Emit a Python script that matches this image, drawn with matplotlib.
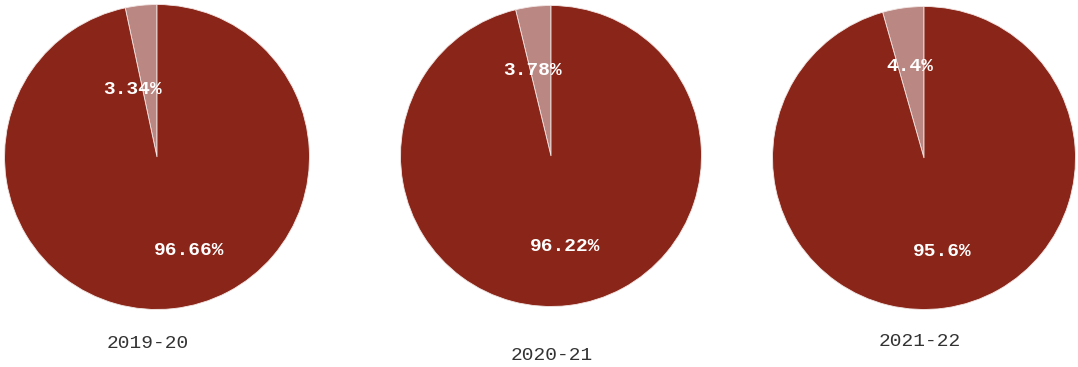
import matplotlib.pyplot as plt
import numpy as np

years = ["2019-20", "2020-21", "2021-22"]
small_share = [3.34, 3.78, 4.4]
large_share = [96.66, 96.22, 95.6]
small_text = ["3.34%", "3.78%", "4.4%"]
large_text = ["96.66%", "96.22%", "95.6%"]

dark_red = "#8a2619"
light_red = "#bb8783"

fig = plt.figure(figsize=(10.78, 3.67), dpi=100)
W, H = 1078, 367

# pie centres and radii in pixels, plus where the year caption sits
centres = [(157, 157, 154), (551, 156, 152), (924, 158, 153)]
captions = [(148, 344), (552, 356), (920, 341)]
# label placement as (angle in degrees, fraction of radius)
small_pos = [(110, 0.47), (102, 0.58), (99, 0.61)]
large_pos = [(-71, 0.65), (-81, 0.61), (-79, 0.63)]

mono = ["Liberation Mono", "DejaVu Sans Mono"]

for i in range(3):
    cx, cy, r = centres[i]
    ax = fig.add_axes([(cx - r) / W, (H - cy - r) / H, 2 * r / W, 2 * r / H])
    ax.pie([small_share[i], large_share[i]], colors=[light_red, dark_red],
           startangle=90, counterclock=True, radius=1,
           wedgeprops=dict(edgecolor="#f2e6e4", linewidth=0.6))
    ax.set_xlim(-1.01, 1.01)
    ax.set_ylim(-1.01, 1.01)
    ax.set_aspect("auto")
    ax.axis("off")

    a, d = small_pos[i]
    ax.text(d * np.cos(np.radians(a)), d * np.sin(np.radians(a)), small_text[i],
            ha="center", va="center", color="white", fontsize=14,
            fontweight="bold", family=mono)
    a, d = large_pos[i]
    ax.text(d * np.cos(np.radians(a)), d * np.sin(np.radians(a)), large_text[i],
            ha="center", va="center", color="white", fontsize=14,
            fontweight="bold", family=mono)

    tx, ty = captions[i]
    fig.text(tx / W, 1 - ty / H, years[i], ha="center", va="center",
             fontsize=14, color="#333333", family=mono)

fig.savefig("out.png", dpi=100)
